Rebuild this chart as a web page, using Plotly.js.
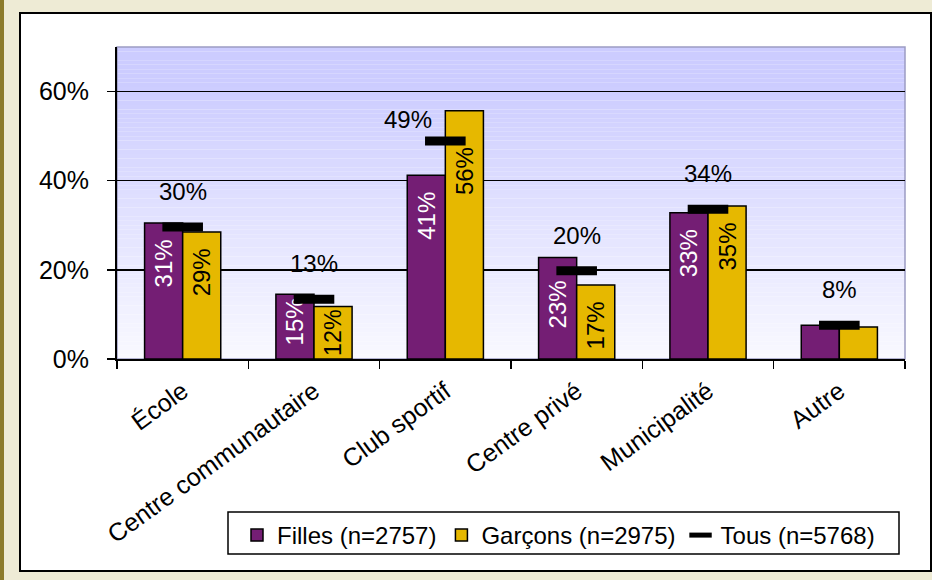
<!DOCTYPE html>
<html>
<head>
<meta charset="utf-8">
<script src="https://cdn.plot.ly/plotly-3.0.1.min.js"></script>
<style>
  html, body { margin: 0; padding: 0; background: #EEEBD5; }
  #chart { width: 932px; height: 580px; }
</style>
</head>
<body>
<div id="chart"></div>
<script>
// ---- Data ----
const categories = ['École', 'Centre communautaire', 'Club sportif', 'Centre privé', 'Municipalité', 'Autre'];
const filles = [30.5, 14.5, 41.2, 22.8, 32.8, 7.6];
const garcons = [28.5, 11.8, 55.7, 16.6, 34.3, 7.2];
const tous = [29.6, 13.4, 48.9, 19.8, 33.6, 7.6];
const fillesLabels = ['31%', '15%', '41%', '23%', '33%', ''];
const garconsLabels = ['29%', '12%', '56%', '17%', '35%', ''];
const tousLabels = ['30%', '13%', '49%', '20%', '34%', '8%'];
const seriesNames = ['Filles (n=2757)', 'Garçons (n=2975)', 'Tous (n=5768)'];

// ---- Layout geometry ----
const W = 932, H = 580;
const M = { l: 117, r: 27, t: 47, b: 221 };
const PW = W - M.l - M.r, PH = H - M.t - M.b;
const YMAX = 70;
const ppu = PH / YMAX;               // pixels per percentage point
const px = x => (x - M.l) / PW;      // pixel -> paper x
const py = y => (H - M.b - y) / PH;  // pixel -> paper y
const FONT = 'Liberation Sans, Arial, sans-serif';
const NB = '\u00a0';

// inside-label padding so the label clears the "Tous" dash
function padLabels(labels, vals) {
  return labels.map((t, i) => {
    if (!t) return t;
    const gap = Math.max(14, (vals[i] - tous[i]) * ppu + 8);
    const fits = vals[i] * ppu >= 48 + gap + 10;
    const n = fits ? Math.max(0, Math.round((gap - 3) / 6.67)) : 0;
    return t + NB.repeat(n);
  });
}

const traces = [
  {
    type: 'bar', name: seriesNames[0], x: categories, y: filles,
    text: padLabels(fillesLabels, filles), textposition: 'inside', insidetextanchor: 'end',
    textangle: -90, textfont: { family: FONT, size: 24, color: '#ffffff' },
    marker: { color: '#741E74', line: { color: '#000000', width: 1.5 } },
    hoverinfo: 'skip'
  },
  {
    type: 'bar', name: seriesNames[1], x: categories, y: garcons,
    text: padLabels(garconsLabels, garcons), textposition: 'inside', insidetextanchor: 'end',
    textangle: -90, textfont: { family: FONT, size: 24, color: '#000000' },
    marker: { color: '#E6B800', line: { color: '#000000', width: 1.5 } },
    hoverinfo: 'skip'
  },
  {
    type: 'scatter', mode: 'markers', name: seriesNames[2], x: categories, y: tous,
    marker: { symbol: 'line-ew', size: 29, color: '#000000', line: { color: '#000000', width: 9 } },
    hoverinfo: 'skip', cliponaxis: false
  }
];

// Tous labels as annotations
const annotations = categories.map((c, i) => {
  const hi = Math.max(filles[i], garcons[i]);
  const crowded = (hi - tous[i]) * ppu > 20;
  return {
    x: c, y: tous[i], xref: 'x', yref: 'y', text: tousLabels[i], showarrow: false,
    yanchor: 'bottom', xanchor: 'center',
    xshift: crowded ? -37 : 0, yshift: crowded ? 6 : 20,
    font: { family: FONT, size: 24, color: '#000000' }
  };
});

// Background shapes
const shapes = [
  { type: 'rect', xref: 'paper', yref: 'paper', x0: px(0), x1: px(4), y0: py(H), y1: py(0),
    fillcolor: '#8C7B2B', line: { width: 0 }, layer: 'below' },
  { type: 'rect', xref: 'paper', yref: 'paper', x0: px(20), x1: px(931), y0: py(571), y1: py(13),
    fillcolor: '#ffffff', line: { color: '#000000', width: 2 }, layer: 'below' },
  // legend frame
  { type: 'rect', xref: 'paper', yref: 'paper', x0: px(228), x1: px(899), y0: py(554), y1: py(512),
    fillcolor: '#ffffff', line: { color: '#000000', width: 1.5 }, layer: 'below' }
];
const gTop = [204, 204, 255], gBot = [249, 249, 255];
const gStep = 1;
for (let v = 0; v < YMAX; v += gStep) {
  const t = Math.min(1, (v + gStep / 2) / 62);
  const c = gTop.map((k, j) => Math.round(gBot[j] + (k - gBot[j]) * t));
  shapes.push({ type: 'rect', xref: 'paper', yref: 'y', x0: 0, x1: 1, y0: v, y1: v + gStep,
    fillcolor: `rgb(${c[0]},${c[1]},${c[2]})`, line: { width: 0 }, layer: 'below' });
}
shapes.push({ type: 'rect', xref: 'paper', yref: 'paper', x0: 0, x1: 1, y0: 0, y1: 1,
  fillcolor: 'rgba(0,0,0,0)', line: { color: '#9C9CC4', width: 1.5 }, layer: 'below' });

const layout = {
  width: W, height: H,
  margin: M,
  paper_bgcolor: '#EEEBD5',
  plot_bgcolor: 'rgba(0,0,0,0)',
  font: { family: FONT, size: 24, color: '#000000' },
  barmode: 'group', bargap: 0.42, bargroupgap: 0,
  showlegend: true,
  legend: {
    orientation: 'h', x: px(237), xanchor: 'left', y: py(513), yanchor: 'top',
    bgcolor: 'rgba(0,0,0,0)', borderwidth: 0,
    font: { family: FONT, size: 24, color: '#000000' },
    traceorder: 'normal'
  },
  xaxis: {
    type: 'category', showline: true, linecolor: '#000000', linewidth: 2,
    ticks: 'outside', tickson: 'boundaries', ticklen: 8, tickwidth: 1.5, tickcolor: '#000000',
    tickangle: -36, tickfont: { family: FONT, size: 25, color: '#000000' },
    ticklabelstandoff: 6, showgrid: false, fixedrange: true
  },
  yaxis: {
    range: [0, YMAX], dtick: 20, ticksuffix: '%',
    showline: true, linecolor: '#000000', linewidth: 2,
    ticks: 'outside', ticklen: 8, tickwidth: 1.5, tickcolor: '#000000',
    tickfont: { family: FONT, size: 25, color: '#000000' }, ticklabelstandoff: 13,
    showgrid: true, gridcolor: '#000000', gridwidth: 1.5, zeroline: false, fixedrange: true
  },
  annotations: annotations,
  shapes: shapes
};

Plotly.newPlot('chart', traces, layout, { displayModeBar: false, staticPlot: true });
</script>
</body>
</html>
